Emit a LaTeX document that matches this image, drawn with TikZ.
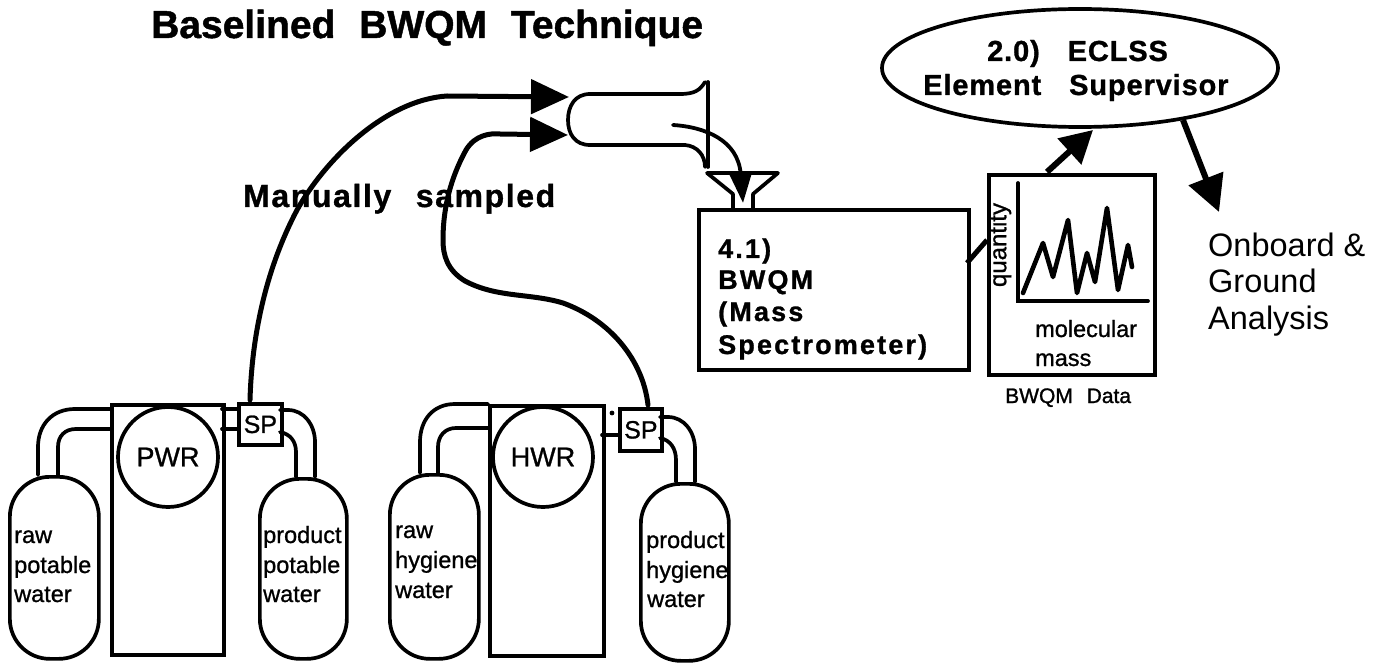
\documentclass[tikz,border=0pt]{standalone}
\usepackage{fontspec}
\setmainfont{Liberation Sans}
\usetikzlibrary{arrows.meta,shapes.geometric}
\tikzset{
  ln/.style={line width=3.7pt,draw=black},
  boxn/.style={ln,rectangle,inner sep=0pt,fill=none},
  tank/.style={ln,rectangle,rounded corners=40pt,inner sep=0pt},
  pipe/.style={ln,line cap=round},
  flow/.style={line width=5pt,line cap=round,-{Triangle[length=38pt,width=34pt]}},
  lab/.style={anchor=base west,inner sep=0pt,font=\fontsize{23.5}{23.5}\selectfont\addfontfeature{FakeBold=1}},
  blab/.style={anchor=base west,inner sep=0pt,font=\fontsize{27}{27}\selectfont\bfseries\addfontfeature{LetterSpace=8,FakeBold=1}},
  elab/.style={anchor=base west,inner sep=0pt,font=\fontsize{29}{29}\selectfont\bfseries\addfontfeature{LetterSpace=3,FakeBold=1}},
  big/.style={anchor=base west,inner sep=0pt,font=\fontsize{39}{39}\selectfont\bfseries\addfontfeature{FakeBold=1.2}},
  thin/.style={anchor=base west,inner sep=0pt,font=\fontsize{23.5}{23.5}\selectfont\addfontfeature{FakeBold=1}},
  rep/.style={anchor=base west,inner sep=0pt,font=\fontsize{32.5}{32.5}\selectfont},
}
\newcommand{\boxat}[6]{\node[#1,minimum width=#5pt-#3pt,minimum height=#6pt-#4pt,anchor=north west] (#2) at (#3,#4) {};}
\begin{document}
\begin{tikzpicture}[x=1pt,y=-1pt]
\useasboundingbox (0,0) rectangle (1385,663);
% PWR group
\boxat{boxn}{pwr}{110}{403}{222}{653}
\node[ln,circle,minimum size=100pt,inner sep=0pt] (pwrc) at (168,457) {};
\boxat{boxn}{spa}{237}{402}{280}{443}
\boxat{tank}{rp}{8}{475}{97}{657}
\boxat{tank}{pp}{258}{477}{345}{657}
% HWR group
\boxat{boxn}{hwr}{488}{404}{602}{654}
\node[ln,circle,minimum size=100pt,inner sep=0pt] (hwrc) at (543,457) {};
\boxat{boxn}{spb}{618}{407}{660}{449}
\boxat{tank}{rh}{388}{473}{477}{657}
\boxat{tank}{ph}{639}{482}{727}{659}
% pipe end points
\coordinate (a1) at (110,409); \coordinate (a2) at (38,475);
\coordinate (a3) at (110,429); \coordinate (a4) at (58,475);
\coordinate (a5) at (222,409); \coordinate (a6) at (237,409);
\coordinate (a7) at (222,429); \coordinate (a8) at (237,429);
\coordinate (a9) at (280,410); \coordinate (a10) at (315,477);
\coordinate (a11) at (280,432); \coordinate (a12) at (296,477);
\coordinate (b1) at (488,404); \coordinate (b2) at (420,473);
\coordinate (b3) at (488,428); \coordinate (b4) at (438,473);
\coordinate (b5) at (602,435); \coordinate (b6) at (618,435);
\coordinate (b9) at (660,417); \coordinate (b10) at (695,482);
\coordinate (b11) at (660,438); \coordinate (b12) at (676,482);
\draw[pipe] (a1) -- (75,409) .. controls (52,409) and (38,425) .. (38,447) -- (a2);
\draw[pipe] (a3) -- (76,429) .. controls (65,429) and (58,436) .. (58,447) -- (a4);
\draw[pipe] (a5) -- (a6);
\draw[pipe] (a7) -- (a8);
\draw[pipe] (a9) -- (288,410) .. controls (304,410) and (315,425) .. (315,442) -- (a10);
\draw[pipe] (a11) .. controls (290,434) and (296,441) .. (296,452) -- (a12);
\draw[pipe] (b1) -- (455,404) .. controls (433,404) and (420,420) .. (420,442) -- (b2);
\draw[pipe] (b3) -- (456,428) .. controls (445,428) and (438,436) .. (438,447) -- (b4);
\draw[pipe] (b5) -- (b6);
\draw[pipe] (b9) -- (668,417) .. controls (684,417) and (695,432) .. (695,449) -- (b10);
\draw[pipe] (b11) .. controls (670,440) and (676,448) .. (676,460) -- (b12);
\fill (612,413) circle (2.4pt);
% horn
\coordinate (hornA) at (705,82); \coordinate (hornB) at (705,167);
\draw[pipe] (hornA) .. controls (700,90) and (695,94) .. (680,94) -- (590,94)
  .. controls (575,94) and (568,106) .. (568,120)
  .. controls (568,134) and (575,145) .. (590,145) -- (685,145)
  .. controls (697,146) and (705,155) .. (hornB);
\draw[pipe] (708,82) -- (708,167);
% main box and funnel
\boxat{boxn}{ms}{697}{208}{967}{368}
\coordinate (f1) at (707,173); \coordinate (f2) at (778,173);
\coordinate (f3) at (733,208); \coordinate (f4) at (753,208);
\draw[pipe,line join=round] (f3) -- (733,194) -- (f1) -- (f2) -- (753,194) -- (f4);
\coordinate (hs) at (673,125); \coordinate (ht) at (743,203);
\draw[line width=3.8pt,line cap=round,-{Triangle[length=30pt,width=22pt]}] (hs) .. controls (705,127) and (738,140) .. (ht);
% data box
\boxat{boxn}{data}{987}{173}{1153}{373}
\coordinate (ax1) at (1018,183); \coordinate (ax2) at (1018,301); \coordinate (ax3) at (1148,301);
\draw[pipe,line join=miter] (ax1) -- (ax2) -- (ax3);
\draw[line width=4.6pt,line join=round,line cap=round] (1023,293) -- (1043,243) -- (1053,277) -- (1068,220) -- (1077,293) -- (1087,253) -- (1095,282) -- (1107,208) -- (1118,290) -- (1128,245) -- (1132,267);
% ellipse
\node[ln,ellipse,minimum width=396pt,minimum height=118pt,inner sep=0pt] (sup) at (1080,68) {};
% flows
\coordinate (sa) at (250,400); \coordinate (sb) at (648,405);
\coordinate (hi1) at (569,97); \coordinate (hi2) at (568,135);
\draw[flow] (sa) .. controls (252,330) and (268,265) .. (297,210) .. controls (325,160) and (385,100) .. (447,96) -- (hi1);
\draw[flow] (sb) .. controls (643,360) and (610,320) .. (563,303) .. controls (530,293) and (497,298) .. (465,281) .. controls (447,270) and (443,255) .. (443,240) .. controls (443,200) and (455,170) .. (466,150) .. controls (475,135) and (490,133) .. (500,134) -- (hi2);
\coordinate (d1) at (967,263); \coordinate (d2) at (987,240);
\draw[line width=5pt] (d1) -- (d2);
\coordinate (e1) at (1047,172); \coordinate (e2) at (1093,130);
\draw[line width=6pt,-{Triangle[length=32pt,width=34pt]}] (e1) -- (e2);
\coordinate (g1) at (1183,120); \coordinate (g2) at (1219,212);
\draw[line width=6pt,-{Triangle[length=36pt,width=36pt]}] (g1) -- (g2);
% texts
\node[big] (title) at (151,38) {Baselined\hspace{13pt} BWQM\hspace{13pt} Technique};
\node[anchor=base west,inner sep=0pt,font=\fontsize{32}{32}\selectfont\bfseries\addfontfeature{LetterSpace=5,FakeBold=1}] (man) at (243,207) {Manually\hspace{14pt} sampled};
\node[elab] (e1t) at (987,61) {2.0)\hspace{19pt} ECLSS};
\node[elab] (e2t) at (923,95) {Element\hspace{19pt} Supervisor};
\node[blab] at (718,258) {4.1)};
\node[blab] at (718,289) {BWQM};
\node[blab] at (718,321) {(Mass};
\node[blab] at (718,354) {Spectrometer)};
\node[lab] at (14,543) {raw};
\node[lab] at (14,573) {potable};
\node[lab] at (14,602) {water};
\node[lab] at (263,543) {product};
\node[lab] at (263,573) {potable};
\node[lab] at (263,602) {water};
\node[lab] at (395,538) {raw};
\node[lab] at (395,568) {hygiene};
\node[lab] at (395,598) {water};
\node[lab] at (646,548) {product};
\node[lab] at (646,578) {hygiene};
\node[lab] at (647,607) {water};
\node[font=\fontsize{27}{27}\selectfont\addfontfeature{FakeBold=1},inner sep=0pt] at (pwrc) {PWR};
\node[font=\fontsize{27}{27}\selectfont\addfontfeature{FakeBold=1},inner sep=0pt] at (hwrc) {HWR};
\node[font=\fontsize{25}{25}\selectfont\addfontfeature{FakeBold=1},inner sep=0pt] at (spa) {SP};
\node[font=\fontsize{25}{25}\selectfont\addfontfeature{FakeBold=1},inner sep=0pt] at (spb) {SP};
\node[thin,anchor=center,rotate=90,font=\fontsize{24}{24}\selectfont\addfontfeature{FakeBold=1}] at (1000,245) {quantity};
\node[thin] at (1035,337) {molecular};
\node[thin] at (1035,366) {mass};
\node[thin,font=\fontsize{21}{21}\selectfont\addfontfeature{FakeBold=1.2}] at (1005,403) {BWQM\hspace{8pt} Data};
\node[rep] at (1208,257) {Onboard \&};
\node[rep] at (1208,293) {Ground};
\node[rep] at (1208,330) {Analysis};
\end{tikzpicture}
\end{document}
